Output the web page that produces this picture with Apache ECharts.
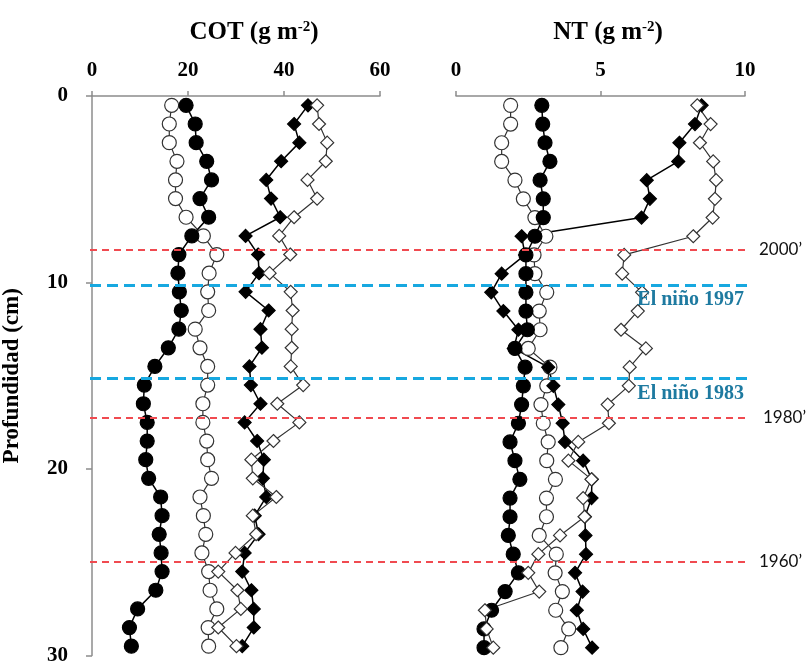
<!DOCTYPE html>
<html>
<head>
<meta charset="utf-8">
<script src="https://cdn.jsdelivr.net/npm/echarts@6/dist/echarts.min.js"></script>
<style>
  html, body { margin: 0; padding: 0; background: #fff; }
  #chart { width: 808px; height: 666px; }
</style>
</head>
<body>
<div id="chart"></div>
<script>
// Profundidad de cada muestra (cm)
const depth = [0.5, 1.5, 2.5, 3.5, 4.5, 5.5, 6.5, 7.5, 8.5, 9.5,
               10.5, 11.5, 12.5, 13.5, 14.5, 15.5, 16.5, 17.5, 18.5, 19.5,
               20.5, 21.5, 22.5, 23.5, 24.5, 25.5, 26.5, 27.5, 28.5, 29.5];

// COT (g m-2)
const cotFilledCircle = [19.6, 21.5, 21.7, 23.9, 24.9, 22.5, 24.3, 20.8, 18.1, 17.9,
                         18.2, 18.6, 18.1, 15.9, 13.1, 10.9, 10.7, 11.5, 11.5, 11.2,
                         11.8, 14.3, 14.6, 14.0, 14.4, 14.6, 13.3, 9.5, 7.8, 8.2];
const cotOpenCircle = [16.6, 16.1, 16.1, 17.7, 17.4, 17.4, 19.6, 23.2, 26.0, 24.4,
                       24.1, 24.3, 21.5, 22.5, 24.1, 24.1, 23.1, 23.1, 23.9, 24.1,
                       24.9, 22.5, 23.2, 23.7, 22.9, 24.3, 24.6, 26.0, 24.2, 24.3];
const cotFilledDiamond = [45.0, 42.1, 43.2, 39.4, 36.3, 37.3, 39.2, 32.0, 34.6, 34.8,
                          32.0, 36.8, 35.1, 35.4, 32.8, 33.1, 35.1, 31.8, 34.4, 35.8,
                          35.6, 36.3, 33.9, 34.7, 31.8, 31.3, 33.2, 33.7, 33.7, 31.3];
const cotOpenDiamond = [46.9, 47.3, 49.0, 48.7, 44.9, 46.9, 42.1, 39.0, 41.3, 37.0,
                        41.4, 41.8, 41.6, 41.6, 41.4, 44.0, 38.6, 43.2, 37.8, 33.2,
                        33.5, 38.4, 33.5, 34.2, 29.9, 26.3, 30.3, 31.0, 26.3, 30.1];

// NT (g m-2)
const ntFilledCircle = [2.97, 3.0, 3.08, 3.25, 2.91, 3.02, 3.02, 2.73, 2.42, 2.42,
                        2.42, 2.42, 2.47, 2.04, 2.39, 2.33, 2.27, 2.16, 1.87, 2.04,
                        2.21, 1.87, 1.87, 1.81, 1.98, 2.16, 1.70, 1.23, 0.97, 0.97];
const ntOpenCircle = [1.89, 1.89, 1.58, 1.58, 2.04, 2.33, 2.73, 3.11, 2.70, 2.73,
                      3.14, 2.88, 2.91, 2.50, 3.25, 3.14, 2.94, 3.02, 3.19, 3.14,
                      3.44, 3.13, 3.13, 2.88, 3.47, 3.43, 3.68, 3.45, 3.90, 3.63];
const ntFilledDiamond = [8.50, 8.27, 7.73, 7.69, 6.60, 6.71, 6.42, 2.27, 2.39, 1.58,
                         1.22, 1.64, 2.16, 2.0, 3.19, 3.37, 3.54, 3.69, 3.77, 4.40,
                         4.70, 4.69, 4.46, 4.48, 4.50, 4.12, 4.38, 4.18, 4.40, 4.71];
const ntOpenDiamond = [8.35, 8.81, 8.44, 8.90, 9.0, 8.96, 8.88, 8.21, 5.82, 5.75,
                       6.44, 6.29, 5.71, 6.57, 6.01, 5.98, 5.25, 5.29, 4.23, 3.89,
                       4.69, 4.40, 4.45, 3.60, 2.85, 2.50, 2.88, 1.00, 1.06, 1.29];

// Ticks: [min, max, interval]
const cotTicks = [0, 60, 20];
const ntTicks = [0, 10, 5];
const depthTicks = [0, 30, 10];

// Lineas de referencia
const yearDepths = [8.2, 17.2, 24.9];
const yearLabels = ["2000’", "1980’", "1960’"];
const ninoDepths = [10.1, 15.1];
const ninoLabels = ["El niño 1997", "El niño 1983"];

const serif = "'Liberation Serif', 'Times New Roman', serif";
const axisGrey = "#8c8c8c";

function pairs(values) {
    return values.map((v, i) => [v, depth[i]]);
}

function profileSeries(values, gridIdx, filled, symbol) {
    const edge = filled ? "#000" : "#333";
    return {
        type: "line",
        xAxisIndex: gridIdx,
        yAxisIndex: gridIdx,
        data: pairs(values),
        symbol: symbol,
        symbolSize: symbol === "circle" ? 14 : 13,
        showAllSymbol: true,
        animation: false,
        lineStyle: { color: edge, width: filled ? 1.5 : 1.2 },
        itemStyle: { color: filled ? "#000" : "#fff", borderColor: edge, borderWidth: 1.2 }
    };
}

function topAxis(gridIdx, ticks) {
    return {
        type: "value",
        gridIndex: gridIdx,
        position: "top",
        min: ticks[0], max: ticks[1], interval: ticks[2],
        axisLine: { show: true, lineStyle: { color: axisGrey, width: 1.5 } },
        axisTick: { show: true, length: 5, lineStyle: { color: axisGrey, width: 1.5 } },
        splitLine: { show: false },
        axisLabel: { margin: 15, color: "#000", fontFamily: serif, fontWeight: "bold", fontSize: 21 }
    };
}

function titleText(x, text) {
    return {
        text: text,
        left: x, top: 15, textAlign: "center",
        textStyle: {
            fontFamily: serif, fontWeight: "bold", fontSize: 25, color: "#000",
            rich: { s: { fontFamily: serif, fontWeight: "bold", fontSize: 15, verticalAlign: "top", lineHeight: 17, color: "#000" } }
        }
    };
}

const markData = [];
yearDepths.forEach((d, i) => {
    markData.push({
        yAxis: d,
        lineStyle: { color: "#f04a50", type: [7, 5], width: 2 },
        label: { show: true, position: "end", distance: i === 1 ? 16 : 12, formatter: yearLabels[i],
                 color: "#111", fontFamily: "Lato, 'Open Sans', sans-serif", fontSize: 17 }
    });
});
ninoDepths.forEach((d, i) => {
    markData.push({
        yAxis: d,
        lineStyle: { color: "#17a8e0", type: [11, 6], width: 3 },
        label: { show: true, position: "insideEndBottom", distance: [3, 5], formatter: ninoLabels[i],
                 color: "#1e7aa0", fontFamily: serif, fontWeight: "bold", fontSize: 20 }
    });
});

const option = {
    backgroundColor: "#fff",
    animation: false,
    title: [titleText(249, "COT (g m{s|-2})"), titleText(603, "NT (g m{s|-2})")],
    grid: [
        { left: 89, top: 96, width: 291, height: 561 },
        { left: 456, top: 96, width: 289, height: 561 },
        { left: 90, top: 96, width: 657, height: 561 }
    ],
    xAxis: [
        topAxis(0, cotTicks),
        topAxis(1, ntTicks),
        { type: "value", gridIndex: 2, min: 0, max: 1, show: false }
    ],
    yAxis: [
        {
            type: "value", gridIndex: 0, inverse: true,
            min: depthTicks[0], max: depthTicks[1], interval: depthTicks[2],
            name: "Profundidad (cm)", nameLocation: "middle", nameGap: 68, nameRotate: 90,
            nameTextStyle: { fontFamily: serif, fontWeight: "bold", fontSize: 23, color: "#000" },
            axisLine: { show: true, lineStyle: { color: axisGrey, width: 1.5 } },
            axisTick: { show: true, length: 6, lineStyle: { color: axisGrey, width: 1.5 } },
            splitLine: { show: false },
            axisLabel: { margin: 24, color: "#000", fontFamily: serif, fontWeight: "bold", fontSize: 21 }
        },
        { type: "value", gridIndex: 1, inverse: true, min: depthTicks[0], max: depthTicks[1], show: false },
        { type: "value", gridIndex: 2, inverse: true, min: depthTicks[0], max: depthTicks[1], show: false }
    ],
    series: [
        profileSeries(cotOpenCircle, 0, false, "circle"),
        profileSeries(cotFilledDiamond, 0, true, "diamond"),
        profileSeries(cotFilledCircle, 0, true, "circle"),
        profileSeries(cotOpenDiamond, 0, false, "diamond"),
        profileSeries(ntOpenCircle, 1, false, "circle"),
        profileSeries(ntFilledDiamond, 1, true, "diamond"),
        profileSeries(ntFilledCircle, 1, true, "circle"),
        profileSeries(ntOpenDiamond, 1, false, "diamond"),
        {
            type: "line", xAxisIndex: 2, yAxisIndex: 2, z: 10,
            data: [], symbol: "none", silent: true,
            markLine: { silent: true, symbol: ["none", "none"], animation: false, data: markData }
        }
    ]
};

const chart = echarts.init(document.getElementById("chart"));
chart.setOption(option);
</script>
</body>
</html>
